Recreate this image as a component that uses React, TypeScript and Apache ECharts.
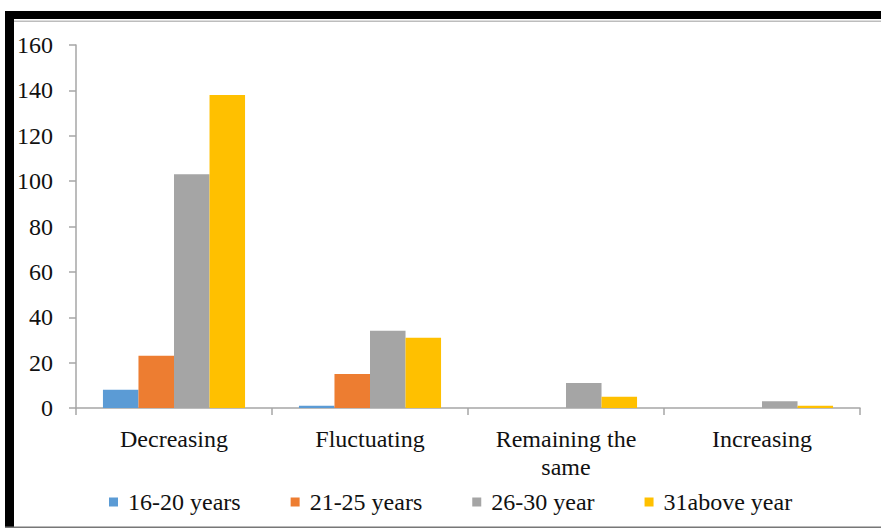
import React, { useEffect, useRef } from "react";
import * as echarts from "echarts";

const categories = ["Decreasing", "Fluctuating", "Remaining the\nsame", "Increasing"];
const seriesNames = ["16-20 years", "21-25 years", "26-30 year", "31above year"];
const s1620 = [8, 1, 0, 0];
const s2125 = [23, 15, 0, 0];
const s2630 = [103, 34, 11, 3];
const s31 = [138, 31, 5, 1];
const colors = ["#5B9BD5", "#ED7D31", "#A5A5A5", "#FFC000"];
const yTicks = { min: 0, max: 160, interval: 20 };

const FONT = "Liberation Serif";

export default function App() {
  const ref = useRef<HTMLDivElement>(null);
  useEffect(() => {
    if (!ref.current) return;
    const chart = echarts.init(ref.current, null, { renderer: "svg" });
    const data = [s1620, s2125, s2630, s31];
    chart.setOption({
      animation: false,
      backgroundColor: "#ffffff",
      textStyle: { fontFamily: FONT },
      grid: { left: 76, right: 21, top: 45, bottom: 121, containLabel: false },
      legend: {
        left: 104,
        top: 485,
        itemWidth: 9,
        itemHeight: 9,
        itemGap: 50,
        icon: "rect",
        textStyle: { fontFamily: FONT, fontSize: 24, color: "#111", padding: [0, 0, 0, 5] },
        data: seriesNames,
      },
      xAxis: {
        type: "category",
        data: categories,
        axisLine: { lineStyle: { color: "#A6A6A6", width: 1.5 } },
        axisTick: { show: true, length: 7, lineStyle: { color: "#A6A6A6", width: 1.5 } },
        axisLabel: {
          fontFamily: FONT,
          fontSize: 24,
          color: "#111",
          margin: 17,
          lineHeight: 28,
          interval: 0,
        },
      },
      yAxis: {
        type: "value",
        min: yTicks.min,
        max: yTicks.max,
        interval: yTicks.interval,
        splitLine: { show: false },
        axisLine: { show: true, lineStyle: { color: "#A6A6A6", width: 1.5 } },
        axisTick: { show: true, length: 7, lineStyle: { color: "#A6A6A6", width: 1.5 } },
        axisLabel: { fontFamily: FONT, fontSize: 24, color: "#111", margin: 23 },
      },
      series: seriesNames.map((name, i) => ({
        name,
        type: "bar",
        data: data[i],
        barGap: "0%",
        barCategoryGap: "27.5%",
        itemStyle: { color: colors[i] },
      })),
      graphic: [
        { type: "rect", z: 100, shape: { x: 5, y: 11, width: 876, height: 8 }, style: { fill: "#000" } },
        { type: "rect", z: 100, shape: { x: 9, y: 20.5, width: 872, height: 1.5 }, style: { fill: "#BDBDBD" } },
        { type: "rect", z: 100, shape: { x: 5, y: 11, width: 9, height: 517 }, style: { fill: "#000" } },
        { type: "rect", z: 100, shape: { x: 5, y: 526.5, width: 876, height: 1.5 }, style: { fill: "#777" } },
      ],
    });
    return () => chart.dispose();
  }, []);
  return (
    <div style={{ position: "absolute", left: 0, top: 0, width: 881, height: 529 }}>
      <div ref={ref} style={{ width: 881, height: 529 }} />
    </div>
  );
}
